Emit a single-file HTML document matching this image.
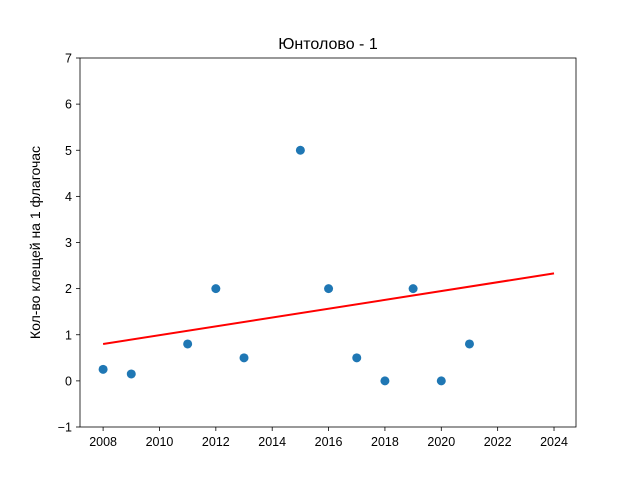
<!DOCTYPE html>
<html><head><meta charset="utf-8"><style>
body{margin:0;background:#fff}
svg{font-family:"Liberation Sans","DejaVu Sans",sans-serif}
</style></head><body>
<svg id="c" width="640" height="480" xmlns="http://www.w3.org/2000/svg"></svg>
<script>
const years=[2008,2009,2011,2012,2013,2015,2016,2017,2018,2019,2020,2021];
const values=[0.25,0.15,0.8,2,0.5,5,2,0.5,0,2,0,0.8];
const trendX=[2008,2024];
const trendY=[0.8,2.33];
const xTicks=[2008,2010,2012,2014,2016,2018,2020,2022,2024];
const yTicks=[-1,0,1,2,3,4,5,6,7];
const L=80,R=576,T=58,B=427,x0=2007.18,x1=2024.78,y0=-1,y1=7;
const sx=v=>L+(v-x0)/(x1-x0)*(R-L);
const sy=v=>B-(v-y0)/(y1-y0)*(B-T);
const svg=document.getElementById('c');
const NS='http://www.w3.org/2000/svg';
function mk(tag,attrs,parent){const e=document.createElementNS(NS,tag);for(const k in attrs)e.setAttribute(k,attrs[k]);(parent||svg).appendChild(e);return e;}
let t=mk('text',{x:(L+R)/2,y:49,'text-anchor':'middle','font-size':16,fill:'#000'});t.textContent='Юнтолово - 1';


let yl=mk('text',{x:0,y:0,transform:`translate(40,${(T+B)/2+0}) rotate(-90)`,'text-anchor':'middle','font-size':14,fill:'#000'});yl.textContent='Кол-во клещей на 1 флагочас';


xTicks.forEach(v=>{const X=sx(v);mk('line',{x1:X,x2:X,y1:B,y2:B+4,stroke:'#000','stroke-width':0.8});
const tx=mk('text',{x:X,y:B+19,'text-anchor':'middle','font-size':12.5,fill:'#000'});tx.textContent=v;

});
yTicks.forEach(v=>{const Y=sy(v);mk('line',{x1:L-4,x2:L,y1:Y,y2:Y,stroke:'#000','stroke-width':0.8});
const tx=mk('text',{x:L-8,y:Y+4.5,'text-anchor':'end','font-size':12.5,fill:'#000'});tx.textContent=v<0?'−'+Math.abs(v):v;

});
years.forEach((yr,i)=>{const c=mk('circle',{cx:sx(yr),cy:sy(values[i]),r:4.5,fill:'#1f77b4'});

});
const ln=mk('line',{x1:sx(trendX[0]),y1:sy(trendY[0]),x2:sx(trendX[1]),y2:sy(trendY[1]),stroke:'#ff0000','stroke-width':2});


const fr=mk('rect',{x:L,y:T,width:R-L,height:B-T,fill:'none',stroke:'#000','stroke-width':0.8});


</script>
</body></html>
